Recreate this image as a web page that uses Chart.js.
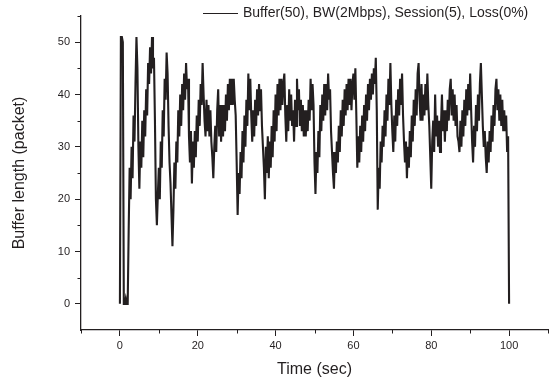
<!DOCTYPE html>
<html><head><meta charset="utf-8">
<script src="https://cdn.jsdelivr.net/npm/chart.js@4/dist/chart.umd.min.js"></script>
<style>html,body{margin:0;padding:0;background:#fff}#wrap{width:551px;height:383px}</style>
</head><body><div id="wrap"><canvas id="c" width="551" height="383"></canvas></div>
<script>
// ---- data ----
const SAMPLE_STEP = 0.25; // seconds between samples
const bufferLength = [
  0,51,51,50,  0,0,1,0,  0,14,26,20,  30,24,36,31,  42,51,45,30,
  22,31,26,35,  28,37,32,41,  36,46,42,49,  44,51,45,47,  35,20,15,21,
  26,20,31,26,  37,32,43,39,  48,44,34,27,  23,17,11,18,  27,22,31,27,
  37,32,40,34,  42,37,44,39,  46,41,43,32,  27,33,23,31,  26,33,28,36,
  31,39,34,42,  38,46,40,35,  32,39,33,38,  32,37,31,28,  24,30,34,29,
  37,41,32,38,  31,38,32,38,  33,40,35,42,  37,43,38,43,  38,43,39,36,
  27,17,25,21,  29,24,33,27,  36,30,39,34,  44,37,43,36,  31,37,32,39,
  34,41,36,42,  37,41,34,30,  26,20,30,25,  32,24,31,26,  34,28,37,31,
  40,33,42,36,  43,37,43,38,  42,44,36,31,  38,33,41,35,  40,34,37,31,
  39,34,43,37,  41,34,39,33,  38,32,37,32,  37,33,39,35,  43,37,42,38,
  27,21,29,25,  33,28,38,33,  40,35,42,36,  42,37,44,39,  41,33,29,25,
  22,29,25,31,  27,34,29,37,  32,39,34,41,  36,42,37,43,  38,43,37,42,
  44,39,45,36,  26,32,27,34,  29,36,31,38,  33,40,35,42,  37,43,39,44,
  40,45,42,47,  37,18,26,22,  31,27,34,30,  37,32,40,35,  43,38,46,38,
  33,29,36,31,  39,34,41,36,  43,38,44,36,  31,27,31,24,  30,26,33,28,
  36,31,39,34,  41,36,44,46,  39,35,42,35,  40,36,42,37,  44,38,34,28,
  22,31,35,29,  40,32,36,30,  35,29,34,40,  33,37,31,37,  33,39,35,41,
  43,36,41,35,  40,34,38,32,  31,29,35,30,  37,32,39,34,  41,36,42,37,
  44,37,31,27,  34,30,38,33,  40,35,42,46,  40,34,30,33,  28,25,31,27,
  33,29,36,31,  38,34,41,43,  37,41,35,40,  34,39,33,37,  33,36,29,32,
  0
];
const seriesLabel = 'Buffer(50), BW(2Mbps), Session(5), Loss(0%)';
const xTitle = 'Time (sec)';
const yTitle = 'Buffer length (packet)';
const xLabeledTicks = [0, 20, 40, 60, 80, 100];
const xMinorTicks = [-10, 10, 30, 50, 70, 90, 110];
const yLabeledTicks = [0, 10, 20, 30, 40, 50];
const yMinorTicks = [5, 15, 25, 35, 45, 55];

const points = bufferLength.map((v, i) => ({ x: i * SAMPLE_STEP, y: v }));

const INK = '#231f20';
Chart.defaults.font.family = "'Liberation Sans', Arial, Helvetica, sans-serif";
Chart.defaults.color = INK;

const decor = {
  id: 'decor',
  afterDraw(chart) {
    const ctx = chart.ctx;
    const xs = chart.scales.x, ys = chart.scales.y;
    ctx.save();
    ctx.strokeStyle = INK;
    ctx.lineWidth = 1;
    xMinorTicks.forEach(v => {
      const px = Math.round(xs.getPixelForValue(v)) + 0.5;
      ctx.beginPath(); ctx.moveTo(px, xs.top); ctx.lineTo(px, xs.top + 3.5); ctx.stroke();
    });
    yMinorTicks.forEach(v => {
      const py = Math.round(ys.getPixelForValue(v)) + 0.5;
      ctx.beginPath(); ctx.moveTo(ys.right - 3.5, py); ctx.lineTo(ys.right, py); ctx.stroke();
    });
    // legend
    const ds = chart.data.datasets[0];
    ctx.strokeStyle = ds.borderColor;
    ctx.lineWidth = 1;
    ctx.beginPath(); ctx.moveTo(203, 13.5); ctx.lineTo(238, 13.5); ctx.stroke();
    ctx.fillStyle = INK;
    ctx.font = "14px 'Liberation Sans', Arial, sans-serif";
    ctx.textBaseline = 'middle';
    ctx.textAlign = 'left';
    ctx.fillText(ds.label, 243, 13.5);
    ctx.restore();
  }
};

new Chart(document.getElementById('c'), {
  type: 'line',
  data: {
    datasets: [{
      label: seriesLabel,
      data: points,
      borderColor: INK,
      borderWidth: 2.1,
      pointRadius: 0,
      tension: 0,
      fill: false
    }]
  },
  options: {
    responsive: false,
    devicePixelRatio: 1,
    animation: false,
    layout: { padding: { top: 16, right: 1, left: 0, bottom: 0 } },
    plugins: { legend: { display: false }, tooltip: { enabled: false } },
    scales: {
      x: {
        type: 'linear', min: -10, max: 110,
        ticks: {
          stepSize: 10, autoSkip: false, maxRotation: 0, padding: 3,
          font: { size: 11 }, color: INK,
          callback: v => xLabeledTicks.includes(v) ? String(v) : ''
        },
        grid: {
          drawOnChartArea: false, drawTicks: true, tickLength: 6, tickWidth: 1,
          tickColor: c => (c.tick && xLabeledTicks.includes(c.tick.value)) ? INK : 'rgba(0,0,0,0)'
        },
        border: { display: true, color: INK, width: 1.3 },
        title: { display: true, text: xTitle, font: { size: 16 }, color: INK, padding: { top: 4, bottom: 4 } },
        afterFit: s => { s.height = 53; }
      },
      y: {
        type: 'linear', min: -5, max: 55,
        ticks: {
          stepSize: 5, autoSkip: false, padding: 5,
          font: { size: 11 }, color: INK,
          callback: v => yLabeledTicks.includes(v) ? String(v) : ''
        },
        grid: {
          drawOnChartArea: false, drawTicks: true, tickLength: 6, tickWidth: 1,
          tickColor: c => (c.tick && yLabeledTicks.includes(c.tick.value)) ? INK : 'rgba(0,0,0,0)'
        },
        border: { display: true, color: INK, width: 1.3 },
        title: { display: true, text: yTitle, font: { size: 16 }, color: INK, padding: { top: 10, bottom: 4 } },
        afterFit: s => { s.width = 81; }
      }
    }
  },
  plugins: [decor]
});
</script>
</body></html>
